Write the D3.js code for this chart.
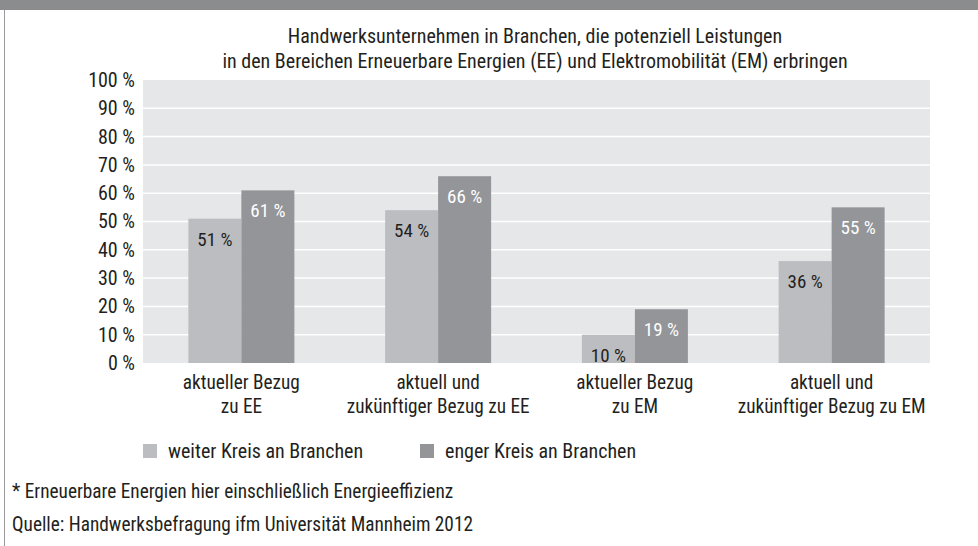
<!DOCTYPE html>
<html><head><meta charset="utf-8">
<script src="https://cdn.jsdelivr.net/npm/d3@7"></script>
<style>
html,body{margin:0;padding:0;background:#fff;}
svg text{font-family:"Liberation Sans Narrow","Roboto Condensed","Open Sans Condensed",Roboto,sans-serif;fill:#231f20;}
</style></head>
<body>
<svg id="c" width="978" height="546"></svg>
<script>
const titleLines = ["Handwerksunternehmen in Branchen, die potenziell Leistungen",
  "in den Bereichen Erneuerbare Energien (EE) und Elektromobilität (EM) erbringen"];
const categories = [
  ["aktueller Bezug","zu EE"],
  ["aktuell und","zukünftiger Bezug zu EE"],
  ["aktueller Bezug","zu EM"],
  ["aktuell und","zukünftiger Bezug zu EM"]
];
const seriesNames = ["weiter Kreis an Branchen","enger Kreis an Branchen"];
const weiterKreis = [51, 54, 10, 36];
const engerKreis = [61, 66, 19, 55];
const yTicks = [0,10,20,30,40,50,60,70,80,90,100];
const footnotes = ["* Erneuerbare Energien hier einschließlich Energieeffizienz",
  "Quelle: Handwerksbefragung ifm Universität Mannheim 2012"];
const colors = ["#bcbdc0","#939598"];
const labelColors = ["#231f20","#ffffff"];

const svg = d3.select("#c");
const W = 978, H = 546;
const m = {left:143, right:930, top:80, bottom:363};

// frame
svg.append("rect").attr("x",0).attr("y",0).attr("width",W).attr("height",10).attr("fill","#8b8c8e");
svg.append("line").attr("x1",4.5).attr("x2",4.5).attr("y1",10).attr("y2",H).attr("stroke","#9a9a9c").attr("stroke-width",1);

// title
svg.append("g").selectAll("text").data(titleLines).join("text")
  .attr("x",535).attr("y",(d,i)=>43+i*25).attr("text-anchor","middle")
  .style("font-size","20px").text(d=>d);

const x = d3.scaleBand().domain(d3.range(categories.length)).range([m.left,m.right]).padding(0);
const y = d3.scaleLinear().domain([0,100]).range([m.bottom,m.top]);
const barW = 53;

// background
svg.append("rect").attr("x",m.left).attr("y",m.top).attr("width",m.right-m.left).attr("height",m.bottom-m.top).attr("fill","#e6e7e8");
// grid
svg.append("g").selectAll("line").data(yTicks.filter(t=>t>0&&t<100)).join("line")
  .attr("x1",m.left).attr("x2",m.right).attr("y1",d=>y(d)).attr("y2",d=>y(d))
  .attr("stroke","#ffffff").attr("stroke-width",1.5);

// y axis
const yAxis = d3.axisLeft(y).tickValues(yTicks).tickFormat(d=>d+" %").tickSize(0).tickPadding(8);
const ya = svg.append("g").attr("transform",`translate(${m.left},0)`).call(yAxis);
ya.select(".domain").remove();
ya.selectAll("text").style("font-size","20px").attr("fill","#231f20");

// bars
const series = [weiterKreis, engerKreis];
series.forEach((vals,si)=>{
  const g = svg.append("g");
  g.selectAll("rect").data(vals).join("rect")
    .attr("x",(d,i)=>x(i)+x.bandwidth()/2 - barW + si*barW)
    .attr("y",d=>y(d)).attr("width",barW).attr("height",d=>y(0)-y(d))
    .attr("fill",colors[si]);
  g.selectAll("text").data(vals).join("text")
    .attr("x",(d,i)=>x(i)+x.bandwidth()/2 - barW/2 + si*barW)
    .attr("y",d=>y(d)+27).attr("text-anchor","middle")
    .style("font-size","19px").style("fill",labelColors[si]).text(d=>d+" %");
});

// x labels
const xa = svg.append("g");
categories.forEach((lines,i)=>{
  xa.append("g").selectAll("text").data(lines).join("text")
    .attr("x",x(i)+x.bandwidth()/2).attr("y",(d,j)=>389+j*24).attr("text-anchor","middle")
    .style("font-size","19.3px").text(d=>d);
});

// legend
const lg = svg.append("g");
const legX = [143,420];
seriesNames.forEach((n,i)=>{
  lg.append("rect").attr("x",legX[i]).attr("y",444).attr("width",14).attr("height",14).attr("fill",colors[i]);
  lg.append("text").attr("x",legX[i]+25).attr("y",458).style("font-size","20px").text(n);
});

// footnotes
svg.append("g").selectAll("text").data(footnotes).join("text")
  .attr("x",12).attr("y",(d,i)=>498+i*33).style("font-size","19.3px").text(d=>d);
</script>
</body></html>
